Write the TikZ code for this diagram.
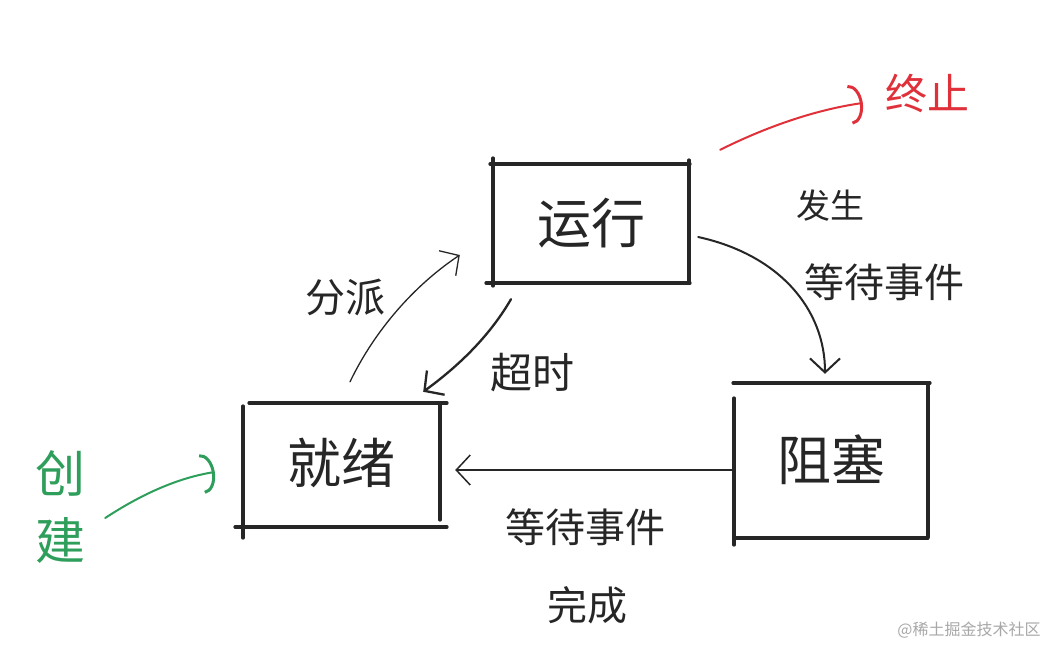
\documentclass[tikz,border=0pt]{standalone}
\usepackage{fontspec}
\usetikzlibrary{arrows.meta}
\newfontfamily\cjk{Noto Sans CJK SC}
\definecolor{ink}{HTML}{262626}
\definecolor{redink}{HTML}{E0303A}
\definecolor{greenink}{HTML}{2E9E5B}
\definecolor{wm}{HTML}{A8A8A8}
\tikzset{
  state/.style={inner sep=0pt, text=ink, font=\cjk\fontsize{54}{60}\selectfont},
  boxline/.style={ink, line width=3.2pt, line cap=round},
  lab/.style={inner sep=0pt, text=ink, font=\cjk\fontsize{40}{48}\selectfont},
  flow/.style={ink, line width=1.6pt, line cap=round,
    -{Straight Barb[length=14pt,width=30pt]}},
  hook/.style={line width=2pt, line cap=round,
    -{Arc Barb[length=13pt,width=40pt,line width=3pt]}}
}
\begin{document}
\begin{tikzpicture}[x=1pt,y=-1pt]
\useasboundingbox (0,0) rectangle (1056,646);
\fill[white] (0,0) rectangle (1056,646);

% state nodes
\node[state, minimum width=196pt, minimum height=119pt] (run) at (591,223.5) {\raisebox{5pt}{运行}};
\node[state, minimum width=197pt, minimum height=124pt] (ready) at (341.5,465) {\raisebox{8pt}{就绪}};
\node[state, minimum width=194pt, minimum height=155pt] (block) at (831,460.5) {\raisebox{6pt}{阻塞}};

% hand-drawn box edges
\draw[boxline] (490,164) -- (690,164);
\draw[boxline] (493,158) -- (493,286);
\draw[boxline] (689,160) -- (689,283);
\draw[boxline] (486,283) -- (690,283);

\draw[boxline] (249,403) -- (447,403);
\draw[boxline] (243,406) -- (243,538);
\draw[boxline] (440,405) -- (440,520);
\draw[boxline] (235,527) -- (447,527);

\draw[boxline] (733,383) -- (930,383);
\draw[boxline] (734,398) -- (734,545);
\draw[boxline] (928,383) -- (928,537);
\draw[boxline] (736,538) -- (928,538);

% side labels
\node[lab, text=redink, font=\cjk\fontsize{42}{50}\selectfont] (stop) at (927,93) {终止};
\node[lab, text=greenink, align=center, font=\cjk\fontsize{50}{67}\selectfont] (create) at (60,507) {创\\建};

% connectors
\draw[flow, line width=1.3pt] ([shift={(8.5,-21)}]ready.north)
  .. controls +(25,-52) and +(-45,30) .. ([shift={(-33,31.5)}]run.west);
\draw[flow, line width=2.3pt] ([shift={(-80,16)}]run.south)
  .. controls +(-21,36) and +(37,-27) .. ([shift={(-17,-11)}]ready.north east);
\draw[flow, line width=2pt] ([shift={(9,13.5)}]run.east)
  .. controls +(82,18) and +(0,-64) .. ([shift={(-6,-9)}]block.north);
\draw[flow, line width=1.5pt] ([shift={(-1,9.5)}]block.west) -- ([shift={(15,5)}]ready.east);
\draw[hook, redink] ([shift={(31,-14)}]run.north east)
  .. controls +(50,-25) and +(-43,6) .. ([shift={(-22,10)}]stop.west);
\draw[hook, greenink] ([shift={(20,11)}]create.east)
  .. controls +(35,-23) and +(-38,6) .. ([shift={(-28,7)}]ready.west);

% connector labels
\node[lab] (lassign) at (345,297) {分派};
\node[lab, font=\cjk\fontsize{42}{50}\selectfont] (ltimeout) at (532,373) {超时};
\node[lab, font=\cjk\fontsize{34}{40}\selectfont] (lwait1a) at (830,206) {发生};
\node[lab] (lwait1b) at (884,282) {等待事件};
\node[lab] (lwait2a) at (585,527) {等待事件};
\node[lab] (lwait2b) at (587,605) {完成};

% watermark
\node[inner sep=0pt, text=wm, font=\cjk\fontsize{16}{18}\selectfont] (wmark) at (969,630) {@稀土掘金技术社区};
\end{tikzpicture}
\end{document}
